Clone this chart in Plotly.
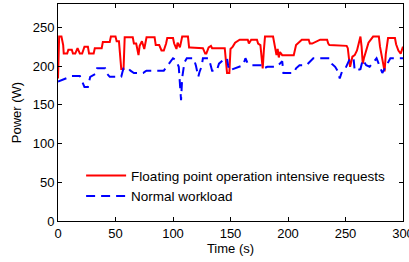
import plotly.graph_objects as go

# Floating point operation intensive requests (red, solid)
fp_time = [0, 1, 3, 4.5, 5, 8, 9, 12, 13, 15, 17, 19, 21, 23, 26, 27, 31, 32, 38, 39, 45, 46, 50, 51, 53,
           55, 57, 58, 59, 65, 66, 68, 70, 71, 73, 75, 77, 80, 84, 85, 88, 90, 92, 94, 95, 100, 101, 103,
           104, 106, 108, 109, 113, 114, 115, 126, 128, 129, 131, 133, 134, 145, 146, 147, 149, 150, 152,
           154, 158, 165, 166, 168, 173, 174, 176, 177, 178, 179, 180, 187, 188, 189, 190, 191, 192, 193,
           195, 205, 206, 207, 212, 218, 219, 221, 228, 234, 235, 236, 251, 252, 253, 254, 256, 258, 260,
           263, 264, 265, 266, 268, 270, 274, 279, 280, 284, 285, 287, 293, 294, 296, 298, 300]
fp_power = [184, 238, 238, 227, 216, 216, 221, 221, 216, 216, 223, 216, 216, 225, 225, 216, 216, 223, 223,
            231, 231, 238, 238, 232, 232, 196, 196, 237, 237, 237, 229, 229, 214, 226, 232, 222, 237, 237,
            237, 227, 227, 220, 220, 229, 236, 236, 229, 222, 230, 224, 238, 238, 238, 224, 224, 223, 216,
            216, 224, 226, 223, 223, 200, 191, 191, 222, 225, 230, 234, 234, 229, 234, 234, 229, 227, 210,
            197, 220, 238, 238, 230, 220, 214, 222, 211, 218, 214, 214, 220, 227, 234, 234, 229, 229, 234,
            234, 229, 227, 226, 223, 210, 199, 212, 214, 220, 238, 225, 203, 210, 220, 230, 238, 238, 225,
            193, 215, 236, 236, 228, 220, 216, 225]

# Normal workload (blue, dashed)
nw_time = [0, 4, 8, 12, 19, 20, 21, 23, 26, 27, 28, 33, 34, 41, 42, 45, 55, 56, 57, 61, 63, 66, 74, 76, 77,
           92, 93, 94, 97, 100, 102, 103, 105, 106, 107, 108, 110, 112, 118, 120, 122, 123, 125, 126, 131,
           132, 134, 138, 140, 143, 147, 148, 149, 152, 158, 161, 163, 165, 168, 178, 179, 182, 190, 193,
           195, 196, 205, 207, 210, 216, 222, 236, 238, 241, 243, 245, 247, 250, 254, 257, 258, 263, 264,
           265, 268, 271, 277, 279, 282, 285, 289, 300]
nw_power = [180, 182, 184, 187, 187, 184, 181, 173, 173, 180, 186, 190, 197, 197, 191, 186, 186, 192, 197,
            197, 194, 191, 191, 193, 194, 194, 196, 199, 205, 210, 208, 206, 199, 180, 156, 185, 205, 210,
            210, 200, 186, 192, 200, 210, 210, 205, 194, 194, 203, 207, 210, 200, 194, 196, 199, 201, 210,
            203, 201, 201, 197, 199, 199, 203, 206, 191, 191, 197, 201, 201, 210, 210, 203, 199, 194, 184,
            193, 197, 210, 210, 194, 196, 203, 208, 201, 199, 210, 203, 191, 199, 210, 210]

x_ticks = [0, 50, 100, 150, 200, 250, 300]
y_ticks = [0, 50, 100, 150, 200, 250]

font_family = "Liberation Sans, Arial, sans-serif"
fs = 13

fig = go.Figure()
fig.add_trace(go.Scatter(x=fp_time, y=fp_power, mode="lines",
                         name="Floating point operation intensive requests",
                         line=dict(color="#ff0000", width=2)))
fig.add_trace(go.Scatter(x=nw_time, y=nw_power, mode="lines",
                         name="Normal workload",
                         line=dict(color="#0000ff", width=2, dash="9px,6px")))

axis_common = dict(showgrid=False, zeroline=False, showline=True, linecolor="black", linewidth=1,
                   mirror="ticks", ticks="inside", ticklen=4, tickcolor="black",
                   ticklabeloverflow="allow",
                   tickfont=dict(family=font_family, size=fs, color="black"))

fig.update_layout(
    width=409, height=262,
    margin=dict(l=58, r=6, t=4, b=41),
    paper_bgcolor="white", plot_bgcolor="white",
    font=dict(family=font_family, size=fs, color="black"),
    showlegend=True,
    legend=dict(x=0.067, y=0.28, xanchor="left", yanchor="top",
                bgcolor="rgba(0,0,0,0)", borderwidth=0,
                font=dict(family=font_family, size=13.5, color="black"),
                tracegroupgap=0, itemwidth=40),
    xaxis=dict(range=[0, 300], tickvals=x_ticks, automargin=False,
               title=dict(text="Time (s)", standoff=2, font=dict(family=font_family, size=fs)),
               **axis_common),
    yaxis=dict(range=[0, 280], tickvals=y_ticks, automargin=False,
               title=dict(text="Power (W)", standoff=8, font=dict(family=font_family, size=fs)),
               **axis_common),
)

fig.write_html("out.html", config={"displayModeBar": False},
               post_script="document.body.style.margin='0';document.body.style.overflow='hidden';")
